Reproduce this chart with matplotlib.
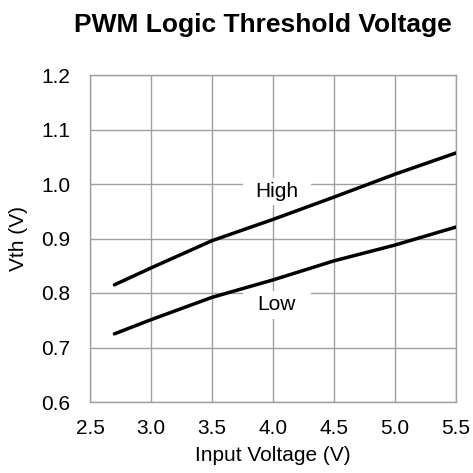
import matplotlib
matplotlib.use("Agg")
import matplotlib.pyplot as plt
from matplotlib.patches import Rectangle

plt.rcParams['font.family'] = ['Liberation Sans', 'DejaVu Sans']

# Data
input_v = [2.7, 3.0, 3.5, 4.0, 4.5, 5.0, 5.5]
vth_high = [0.815, 0.846, 0.896, 0.935, 0.976, 1.018, 1.057]
vth_low = [0.725, 0.751, 0.792, 0.824, 0.859, 0.888, 0.921]

x_ticks = [2.5, 3.0, 3.5, 4.0, 4.5, 5.0, 5.5]
y_ticks = [0.6, 0.7, 0.8, 0.9, 1.0, 1.1, 1.2]

fig = plt.figure(figsize=(4.73, 4.73), dpi=100)
ax = fig.add_axes([90 / 473, 1 - 402 / 473, 366 / 473, 327 / 473])

ax.plot(input_v, vth_high, color='black', lw=2.5, solid_capstyle='round', zorder=4)
ax.plot(input_v, vth_low, color='black', lw=2.5, solid_capstyle='round', zorder=4)

ax.set_xlim(2.5, 5.5)
ax.set_ylim(0.6, 1.2)
ax.set_xticks(x_ticks)
ax.set_yticks(y_ticks)
ax.set_xticklabels([f"{v:.1f}" for v in x_ticks])
ax.set_yticklabels([f"{v:.1f}" for v in y_ticks])
ax.tick_params(length=0, labelsize=15)
ax.tick_params(axis='y', pad=14)
ax.tick_params(axis='x', pad=12)

ax.grid(True, color='#a0a0a0', lw=1.0, zorder=1)
ax.set_axisbelow(True)
for sp in ax.spines.values():
    sp.set_color('#a0a0a0')
    sp.set_linewidth(1.0)

# curve labels on white blocks that cut the grid lines
for lx, ly, txt in [(4.03, 0.986, "High"), (4.03, 0.778, "Low")]:
    ax.add_patch(Rectangle((lx - 0.28, ly - 0.025), 0.56, 0.05,
                           facecolor='white', edgecolor='none', zorder=2))
    ax.text(lx, ly, txt, fontsize=15, ha='center', va='center', zorder=3)

ax.set_xlabel("Input Voltage (V)", fontsize=15, labelpad=6)
ax.set_ylabel("Vth (V)", fontsize=15, labelpad=10)

fig.text(263 / 473, 1 - 25 / 473, "PWM Logic Threshold Voltage", fontsize=19,
         fontweight='bold', ha='center', va='center')

fig.savefig("out.png", dpi=100)
